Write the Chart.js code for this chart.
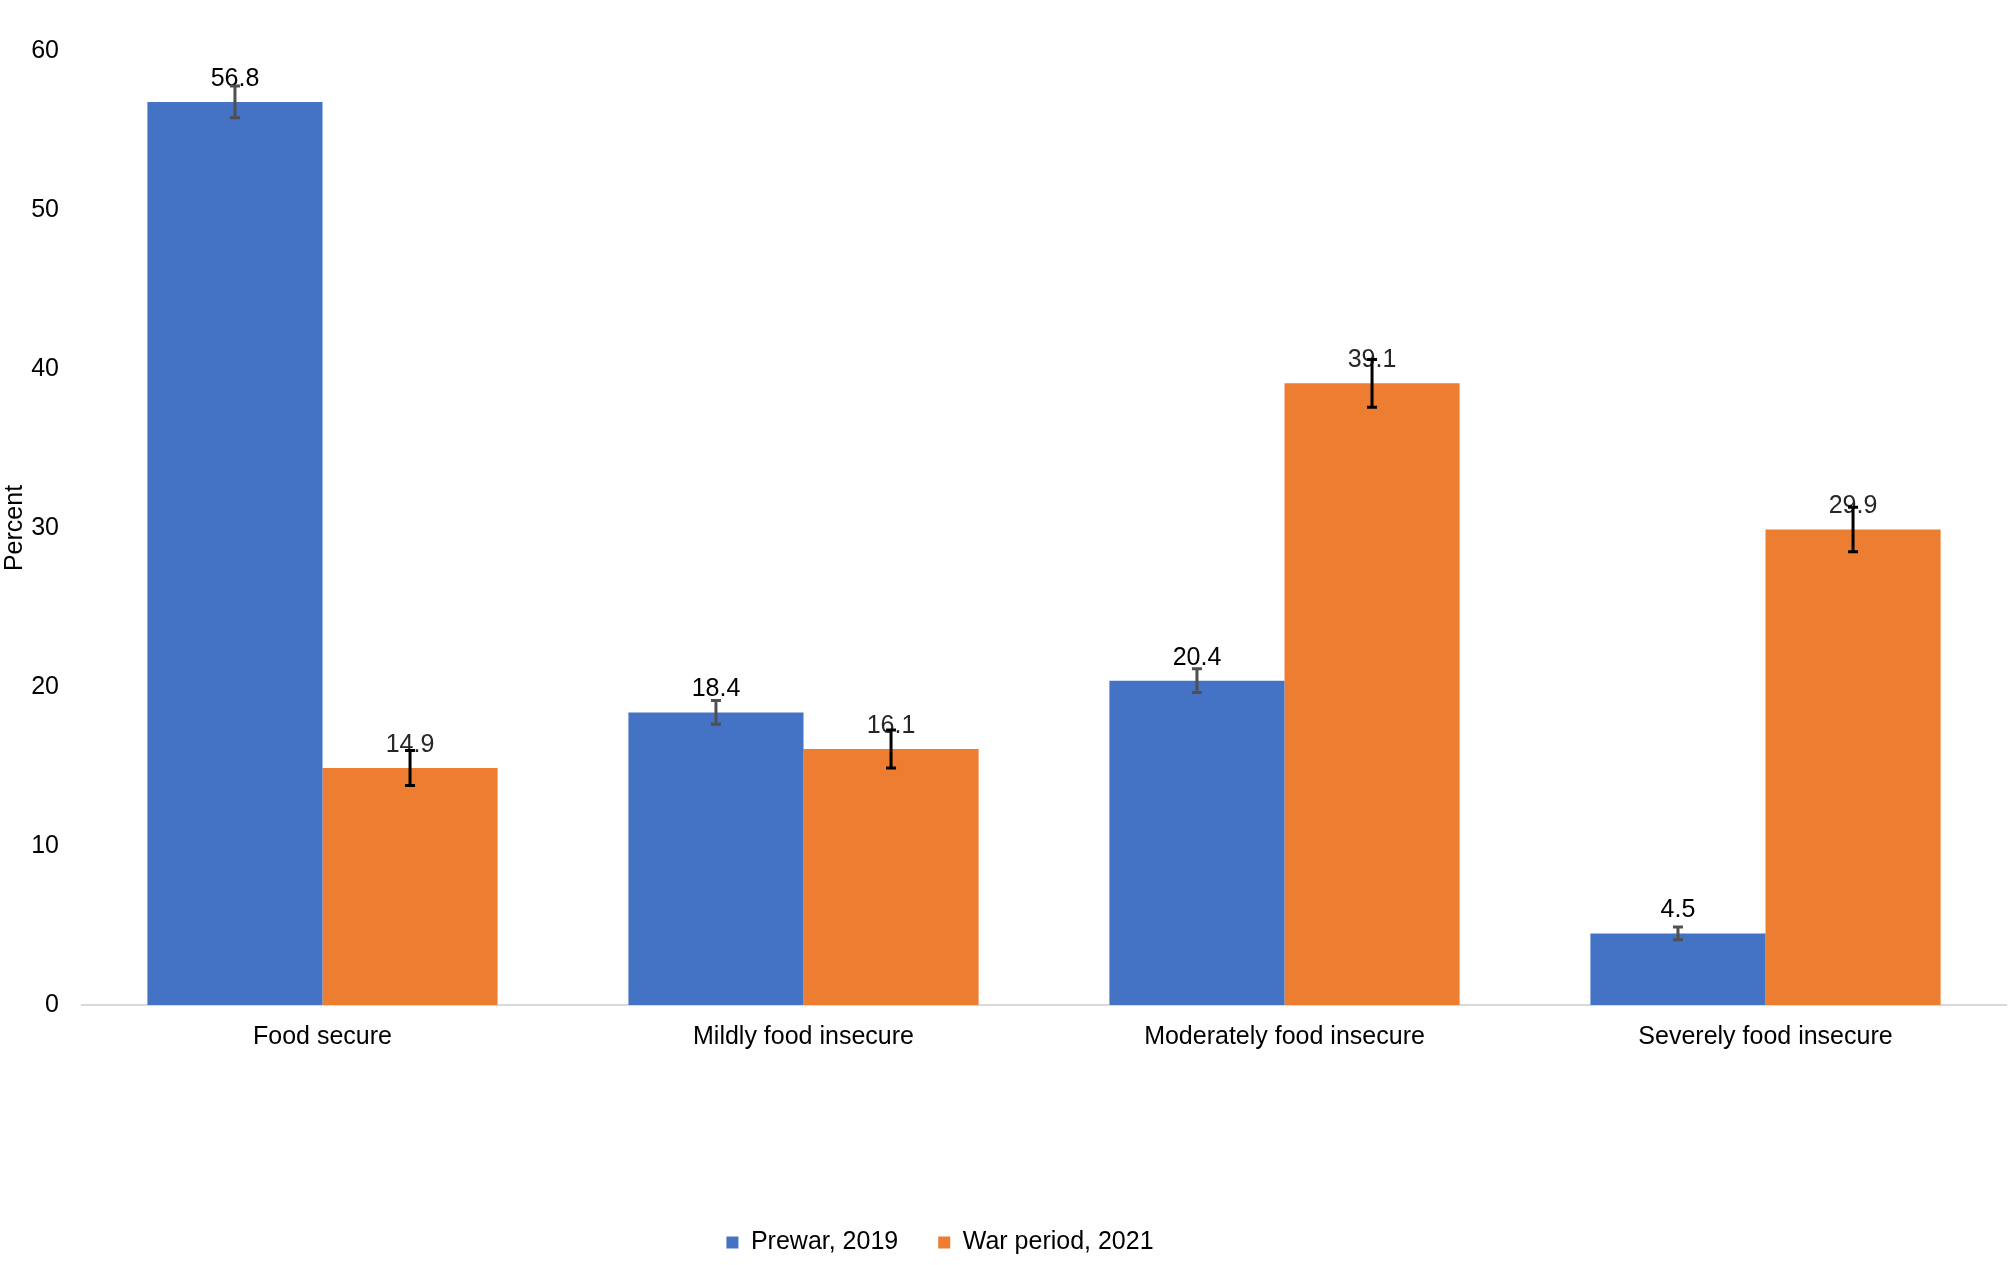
<!DOCTYPE html>
<html>
<head>
<meta charset="utf-8">
<script src="https://cdn.jsdelivr.net/npm/chart.js@4"></script>
<style>
  html, body { margin: 0; padding: 0; background: #fff; }
  #wrap { width: 2008px; height: 1265px; }
</style>
</head>
<body>
<div id="wrap"><canvas id="chart" width="2008" height="1265"></canvas></div>
<script>
const categories = ['Food secure', 'Mildly food insecure', 'Moderately food insecure', 'Severely food insecure'];
const prewar = [56.8, 18.4, 20.4, 4.5];
const prewarLow = [55.8, 17.65, 19.65, 4.1];
const prewarHigh = [57.8, 19.15, 21.15, 4.9];
const war = [14.9, 16.1, 39.1, 29.9];
const warLow = [13.8, 14.9, 37.6, 28.5];
const warHigh = [16.0, 17.3, 40.6, 31.3];
const yTicks = [0, 10, 20, 30, 40, 50, 60];

const FONT = '"Liberation Sans", Arial, sans-serif';
Chart.defaults.font.family = FONT;
Chart.defaults.font.size = 25;
Chart.defaults.color = '#000';

// error bars + value labels, drawn through the y scale
const errorBars = {
  id: 'errorBars',
  afterDatasetsDraw(chart) {
    const ctx = chart.ctx;
    const y = chart.scales.y;
    chart.data.datasets.forEach((ds, di) => {
      const meta = chart.getDatasetMeta(di);
      meta.data.forEach((bar, i) => {
        ctx.save();
        ctx.font = '25px ' + FONT;
        ctx.fillStyle = ds.labelColor;
        ctx.textAlign = 'center';
        ctx.textBaseline = 'middle';
        ctx.fillText(ds.data[i].toFixed(1), bar.x, bar.y - 23);
        const top = y.getPixelForValue(ds.high[i]);
        const bot = y.getPixelForValue(ds.low[i]);
        ctx.strokeStyle = ds.errColor;
        ctx.lineWidth = 3;
        ctx.beginPath();
        ctx.moveTo(bar.x, top); ctx.lineTo(bar.x, bot);
        ctx.moveTo(bar.x - 5, top); ctx.lineTo(bar.x + 5, top);
        ctx.moveTo(bar.x - 5, bot); ctx.lineTo(bar.x + 5, bot);
        ctx.stroke();
        ctx.restore();
      });
    });
  }
};

// legend in the original sits a bit left of centre
const legendShift = {
  id: 'legendShift',
  afterLayout(chart) {
    chart.legend.left -= 63;
    chart.legend.right -= 63;
  }
};

new Chart(document.getElementById('chart'), {
  type: 'bar',
  data: {
    labels: categories,
    datasets: [
      { label: 'Prewar, 2019', data: prewar, low: prewarLow, high: prewarHigh,
        backgroundColor: '#4472C4', errColor: '#505050', labelColor: '#000' },
      { label: 'War period, 2021', data: war, low: warLow, high: warHigh,
        backgroundColor: '#ED7D31', errColor: '#000', labelColor: '#262626' }
    ]
  },
  options: {
    responsive: false,
    animation: false,
    layout: { padding: { top: 51, right: 2, left: 0, bottom: 0 } },
    datasets: { bar: { categoryPercentage: 0.728, barPercentage: 1 } },
    plugins: {
      legend: {
        position: 'bottom',
        labels: { boxWidth: 12, boxHeight: 12, padding: 40, color: '#000', font: { size: 25 } }
      },
      tooltip: { enabled: false }
    },
    scales: {
      x: {
        grid: { display: false, drawTicks: false },
        border: { display: true, color: '#d9d9d9', width: 2 },
        ticks: { padding: 17, color: '#000' },
        afterFit(s) { s.height = 185; }
      },
      y: {
        min: 0, max: 60,
        afterBuildTicks(s) { s.ticks = yTicks.map(v => ({ value: v })); },
        grid: { display: false },
        border: { display: false },
        ticks: { padding: 15, color: '#000' },
        title: { display: true, text: 'Percent', color: '#000', font: { size: 25 }, padding: 0 },
        afterFit(s) { s.width = 82; }
      }
    }
  },
  plugins: [errorBars, legendShift]
});
</script>
</body>
</html>
